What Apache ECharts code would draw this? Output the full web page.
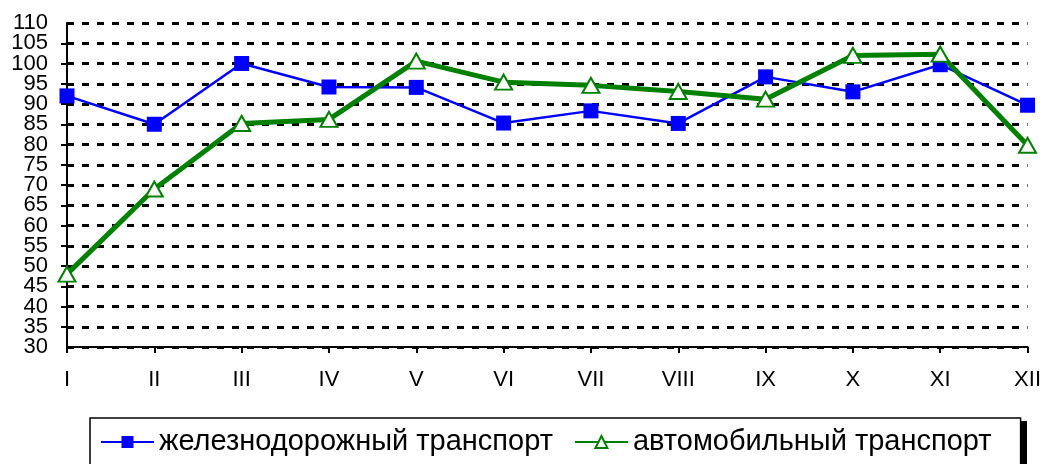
<!DOCTYPE html>
<html>
<head>
<meta charset="utf-8">
<script src="https://cdn.jsdelivr.net/npm/echarts@6/dist/echarts.min.js"></script>
<style>
	html, body { margin: 0; padding: 0; background: #fff; }
	#grafico { width: 1044px; height: 464px; }
</style>
</head>
<body>
<div id="grafico"></div>
<script>
// Dados
const meses = ['I', 'II', 'III', 'IV', 'V', 'VI', 'VII', 'VIII', 'IX', 'X', 'XI', 'XII'];
const ferroviario = [92, 85, 100, 94.2, 94.1, 85.3, 88.3, 85.2, 96.7, 93, 99.7, 89.7];
const rodoviario = [48, 69, 85.2, 86.2, 100.6, 95.4, 94.6, 93.1, 91.2, 102, 102.3, 79.8];
const nomeFerro = 'железнодорожный транспорт';
const nomeRodo = 'автомобильный транспорт';

const fonte = '"Liberation Sans", Arial, sans-serif';

const grafico = echarts.init(document.getElementById('grafico'));

// escala comum aos dois eixos verticais
const escalaY = { type: 'value', min: 30, max: 110, interval: 5 };
const rotuloY = { color: '#000', fontFamily: fonte, fontSize: 22, margin: 19 };

const option = {
	animation: false,
	grid: { left: 67, right: 14, top: 23, bottom: 117 },
	legend: {
		left: 90,
		top: 418,
		padding: [8, 29, 30, 10],
		itemWidth: 53,
		itemHeight: 15,
		itemGap: 21,
		borderColor: '#000',
		borderWidth: 1.5,
		backgroundColor: '#fff',
		textStyle: { fontFamily: fonte, fontSize: 29, color: '#000', lineHeight: 32 },
		data: [nomeFerro, nomeRodo]
	},
	// sombra preta à direita da caixa da legenda
	graphic: [{
		type: 'rect',
		left: 1020,
		top: 421,
		shape: { width: 7, height: 60 },
		style: { fill: '#000' },
		z: 0
	}],
	xAxis: {
		type: 'category',
		data: meses,
		boundaryGap: false,
		axisLine: { lineStyle: { color: '#000', width: 2 } },
		axisTick: { show: true, length: 6, lineStyle: { color: '#000', width: 2 } },
		axisLabel: { color: '#000', fontFamily: fonte, fontSize: 22, margin: 22 },
		splitLine: { show: false }
	},
	yAxis: [
		// eixo principal: rótulos intermediários, ticks externos e grade tracejada
		Object.assign({}, escalaY, {
			axisLine: { show: true, lineStyle: { color: '#000', width: 2 } },
			axisTick: { show: true, length: 6, lineStyle: { color: '#000', width: 2 } },
			axisLabel: Object.assign({}, rotuloY, { showMinLabel: false, showMaxLabel: false }),
			splitLine: {
				show: true,
				lineStyle: { color: '#000', width: 3, type: [7, 8] }
			}
		}),
		// segundo eixo: só 30 e 110 e os ticks internos
		Object.assign({}, escalaY, {
			position: 'left',
			offset: 0,
			axisLine: { show: false },
			axisTick: { show: true, inside: true, length: 6, lineStyle: { color: '#000', width: 2 } },
			axisLabel: Object.assign({}, rotuloY, {
				showMinLabel: true, showMaxLabel: true,
				formatter: v => (v === 30 || v === 110) ? String(v) : ''
			}),
			splitLine: { show: false }
		})
	],
	series: [
		{
			name: nomeFerro,
			type: 'line',
			data: ferroviario,
			symbol: 'rect',
			symbolSize: 15,
			lineStyle: { color: '#0000ff', width: 2.5 },
			itemStyle: { color: '#0000ff' },
			z: 3
		},
		{
			name: nomeRodo,
			type: 'line',
			data: rodoviario,
			symbol: 'triangle',
			symbolSize: [17, 15],
			lineStyle: { color: '#008000', width: 5 },
			itemStyle: { color: '#fff', borderColor: '#008000', borderWidth: 2 },
			z: 4
		}
	]
};

grafico.setOption(option);
</script>
</body>
</html>
